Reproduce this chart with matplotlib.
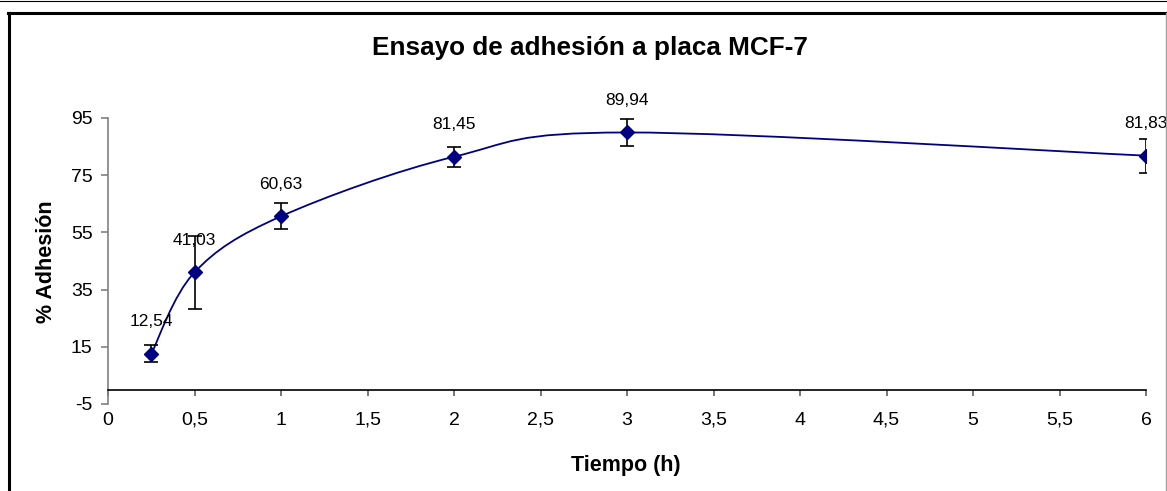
import matplotlib
matplotlib.use("Agg")
import matplotlib.pyplot as plt
from matplotlib.path import Path
from matplotlib.patches import PathPatch
from matplotlib.lines import Line2D
from matplotlib.ticker import FuncFormatter, FixedLocator
import numpy as np

plt.rcParams['font.family'] = ['Liberation Sans', 'DejaVu Sans']

# Data
tiempo = [0.25, 0.5, 1, 2, 3, 6]
adhesion = [12.54, 41.03, 60.63, 81.45, 89.94, 81.83]
error = [3.0, 12.7, 4.6, 3.5, 4.8, 6.0]
y_ticks = [-5, 15, 35, 55, 75, 95]
x_ticks = [0, 0.5, 1, 1.5, 2, 2.5, 3, 3.5, 4, 4.5, 5, 5.5, 6]

W, H = 1167, 491
fig = plt.figure(figsize=(W / 100, H / 100), dpi=100)
ax = fig.add_axes([108 / W, (H - 404) / H, (1146 - 108) / W, (404 - 118) / H])

navy = '#000080'

# Smoothed line (Excel-style Bezier through points)
pts = np.column_stack([tiempo, adhesion])
n = len(pts)
verts = [tuple(pts[0])]
codes = [Path.MOVETO]
for i in range(n - 1):
    p0 = pts[i - 1] if i > 0 else pts[i]
    p1 = pts[i]
    p2 = pts[i + 1]
    p3 = pts[i + 2] if i + 2 < n else pts[i + 1]
    c1 = p1 + (p2 - p0) / 6.0
    c2 = p2 - (p3 - p1) / 6.0
    verts += [tuple(c1), tuple(c2), tuple(p2)]
    codes += [Path.CURVE4] * 3
ax.add_patch(PathPatch(Path(verts, codes), facecolor='none', edgecolor=navy, lw=1.3, zorder=2))

ax.errorbar(tiempo, adhesion, yerr=error, fmt='none', ecolor='black', elinewidth=1.2,
            capsize=4.7, capthick=1.2, zorder=3)
ax.plot(tiempo, adhesion, linestyle='none', marker='D', markersize=7.5,
        markerfacecolor=navy, markeredgecolor=navy, zorder=4)

for x, y in zip(tiempo, adhesion):
    ax.annotate(f"{y:.2f}".replace('.', ','), (x, y), xytext=(0, 23), textcoords='offset points',
                ha='center', va='center', fontsize=12.5, color='black', zorder=5)

ax.set_xlim(0, 6)
ax.set_ylim(-5, 95)
ax.xaxis.set_major_locator(FixedLocator(x_ticks))
ax.yaxis.set_major_locator(FixedLocator(y_ticks))
ax.xaxis.set_major_formatter(FuncFormatter(lambda v, p: f"{v:g}".replace('.', ',')))
ax.yaxis.set_major_formatter(FuncFormatter(lambda v, p: f"{v:g}"))

for s in ['top', 'right']:
    ax.spines[s].set_visible(False)
ax.spines['bottom'].set_position(('data', 0))
ax.spines['bottom'].set_color('black')
ax.spines['bottom'].set_linewidth(1.2)
ax.spines['left'].set_color('#808080')
ax.spines['left'].set_linewidth(1.2)

ax.tick_params(axis='x', direction='out', length=4.3, width=1.2, color='#606060',
               pad=11.5, labelsize=14)
ax.tick_params(axis='y', direction='out', length=5, width=1.2, color='#808080',
               pad=6.0, labelsize=14)
ax.patch.set_alpha(0)

fig.text(47 / W, 1 - 262 / H, '% Adhesión', rotation=90, ha='center', va='center',
         fontsize=15.5, fontweight='bold')
fig.text(626 / W, 1 - 465 / H, 'Tiempo (h)', ha='center', va='center',
         fontsize=15.5, fontweight='bold')
fig.text(590 / W, 1 - 48 / H, 'Ensayo de adhesión a placa MCF-7', ha='center', va='center',
         fontsize=18.8, fontweight='bold')

# Figure frame
def fline(x0, y0, x1, y1, **kw):
    fig.add_artist(Line2D([x0 / W, x1 / W], [1 - y0 / H, 1 - y1 / H],
                          transform=fig.transFigure, **kw))

fline(0, 0.5, 1166, 0.5, color='black', lw=0.8)
fline(9, 13, 9, H, color='black', lw=2.2)
fline(8, 13, 1166, 13, color='black', lw=2.2)
fline(1166, 13, 1166, H, color='#a0a0a0', lw=1.0)

fig.savefig('out.png', dpi=100)
